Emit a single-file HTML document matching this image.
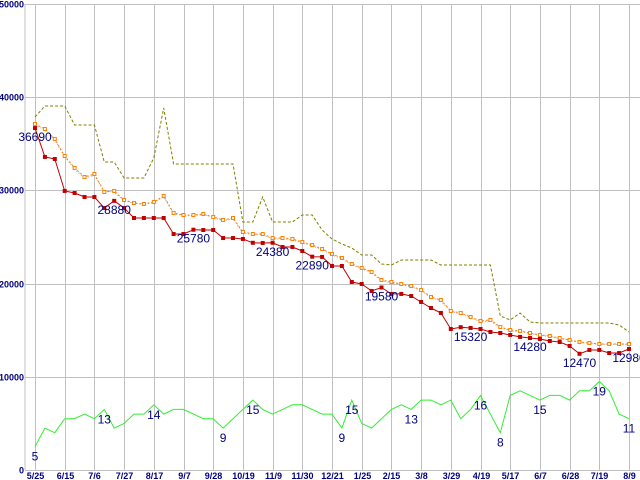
<!DOCTYPE html>
<html><head><meta charset="utf-8"><style>
html,body{margin:0;padding:0;background:#fff;}
svg{display:block;font-family:"Liberation Sans",sans-serif;}
.ax{font-size:9px;font-weight:bold;fill:#000080;}
.lb{font-size:12px;fill:#000080;}
</style></head><body>
<svg id="chart" width="640" height="480" viewBox="0 0 640 480"></svg>
<script>
const xTickLabels=["5/25","6/15","7/6","7/27","8/17","9/7","9/28","10/19","11/9","11/30","12/21","1/25","2/15","3/8","3/29","4/19","5/17","6/7","6/28","7/19","8/9"];
const yTicks=[0,10000,20000,30000,40000,50000];
const minPrice=[36690,33590,33370,29940,29720,29290,29290,28110,28880,28110,27040,27040,27040,27040,25320,25320,25780,25750,25750,24890,24890,24790,24380,24360,24380,23930,23930,23500,22890,22860,21890,21890,20170,19960,19210,19580,18890,18890,18670,18030,17380,16850,15130,15320,15240,15130,14810,14700,14490,14280,14160,14060,13840,13730,13310,12470,12880,12880,12550,12550,12980];
const avgPrice=[37130,36590,35520,33690,32410,31440,31760,29830,29940,28970,28650,28540,28760,29400,27580,27360,27360,27470,27150,26830,27040,25540,25320,25320,24890,24890,24790,24460,24140,23710,23180,22750,22100,21680,21250,20390,20170,19960,19740,19310,18560,18240,17060,16850,16420,15990,16100,15340,15020,14920,14700,14490,14380,14160,13950,13730,13630,13520,13520,13520,13520];
const avgPrice2=[37000,36500,35400,33600,32300,31300,31600,29950,29800,28900,28600,28500,28700,29300,27500,27300,27300,27400,27100,26750,26950,25450,25250,25250,24800,24800,24700,24400,24050,23650,23100,22650,22000,21600,21150,20300,20100,19900,19650,19250,18500,18150,17000,16750,16350,15900,16000,15250,14950,14850,14650,14450,14300,14100,13900,13700,13580,13480,13480,13480,13480];
const maxPrice=[37880,39060,39060,39060,37020,37020,37020,33050,33050,31330,31330,31330,33480,38840,32830,32830,32830,32830,32830,32830,32830,26610,26610,29290,26610,26610,26610,27360,27360,25750,24790,24250,23820,23070,23070,22100,22000,22530,22530,22530,22530,22000,22000,22000,22000,22000,22000,16520,16100,16850,15880,15770,15770,15770,15770,15770,15770,15770,15770,15560,14810];
const counts=[5,9,8,11,11,12,11,13,9,10,12,12,14,12,13,13,12,11,11,9,11,13,15,13,12,13,14,14,13,12,12,9,15,10,9,11,13,14,13,15,15,14,15,11,13,16,12,8,16,17,16,15,16,16,15,17,17,19,17,12,11];
const priceLabelIdx=[0,8,16,24,28,35,44,50,55,60];
const priceLabelText=["36690","28880","25780","24380","22890","19580","15320","14280","12470","12980"];
const countLabelIdx=[0,7,12,19,22,31,32,38,45,47,51,57,60];
const COUNT_UNIT=500;

const svg=document.getElementById('chart');
const NS='http://www.w3.org/2000/svg';
const X0=35,X1=629,Y0=470,YT=4,N=minPrice.length;
function xIdx(i){return X0+(X1-X0)*i/(N-1);}
function xTick(k){return X0+(X1-X0)*k/(xTickLabels.length-1);}
function yPix(v){return Y0-(Y0-YT)*v/50000;}
function mk(tag,attrs,parent){const e=document.createElementNS(NS,tag);for(const k in attrs)e.setAttribute(k,attrs[k]);(parent||svg).appendChild(e);return e;}

const grid=mk('g',{});


mk('line',{x1:25,y1:YT,x2:25,y2:Y0,stroke:'#c0c0c0'},grid);
yTicks.forEach(v=>{
  const y=Math.round(yPix(v))+0.5;
  if(v>0){const l=mk('line',{x1:25,y1:y,x2:640,y2:y,stroke:'#c0c0c0'},grid);
  
  }
  const t=mk('text',{x:24,y:y+3,'text-anchor':'end',class:'ax'});
  t.textContent=String(v);
  
  
});
mk('line',{x1:25,y1:Y0+0.5,x2:640,y2:Y0+0.5,stroke:'#c0c0c0'},grid);
xTickLabels.forEach((s,k)=>{
  const x=Math.round(xTick(k))+0.5;
  const l=mk('line',{x1:x,y1:YT,x2:x,y2:Y0,stroke:'#c0c0c0'},grid);
  
  
  const t=mk('text',{x:x,y:479,'text-anchor':'middle',class:'ax'});
  t.textContent=s;
  
  
});

function series(vals,color,dash,name){
  const pts=vals.map((v,i)=>xIdx(i).toFixed(1)+','+yPix(v).toFixed(1)).join(' ');
  const p=mk('polyline',{points:pts,fill:'none',stroke:color,'stroke-width':1});
  if(dash)p.setAttribute('stroke-dasharray',dash);
  
  
  return p;
}
series(maxPrice,'#808000','3,2','max-price-line');
series(avgPrice2,'#a0a0a0','1,2','avg-price-2-line');
series(avgPrice,'#ff8000','2,2','avg-price-line');
avgPrice.forEach((v,i)=>{
  const r=mk('rect',{x:xIdx(i)-1.5,y:yPix(v)-1.5,width:3,height:3,fill:'#fff',stroke:'#ff8000','stroke-width':1});
  
  
});
series(minPrice,'#c00000',null,'min-price-line');
minPrice.forEach((v,i)=>{
  const r=mk('rect',{x:xIdx(i)-2,y:yPix(v)-2,width:4,height:4,fill:'#c00000'});
  
  
});
series(counts.map(c=>c*COUNT_UNIT),'#33ee33',null,'count-line');

priceLabelIdx.forEach((i,k)=>{
  const t=mk('text',{x:xIdx(i),y:yPix(minPrice[i])+13,'text-anchor':'middle',class:'lb'});
  t.textContent=priceLabelText[k];
  
  
});
countLabelIdx.forEach(i=>{
  const t=mk('text',{x:xIdx(i),y:yPix(counts[i]*COUNT_UNIT)+14,'text-anchor':'middle',class:'lb'});
  t.textContent=String(counts[i]);
  
  
});
</script>
</body></html>
